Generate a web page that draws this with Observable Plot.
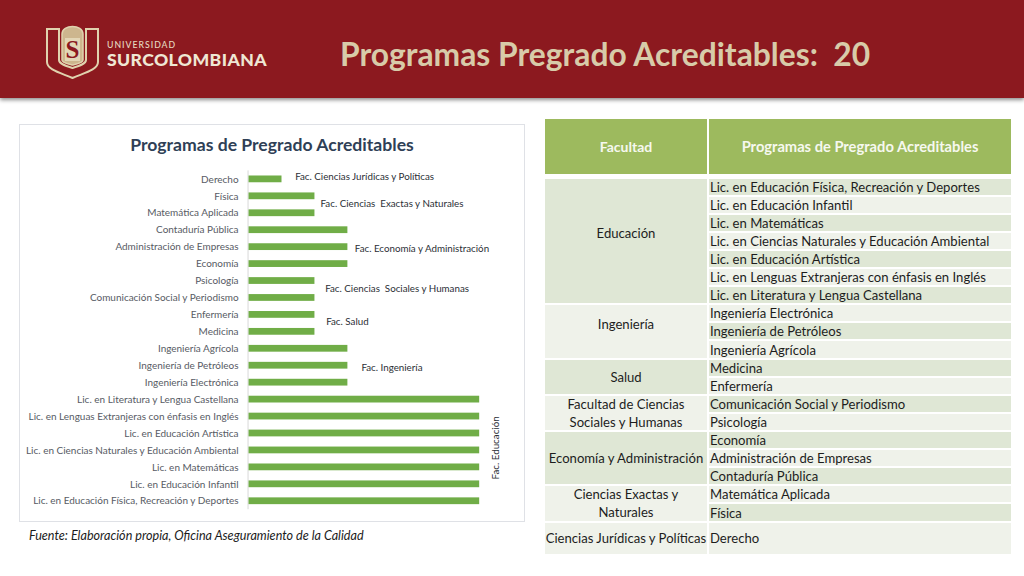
<!DOCTYPE html>
<html lang="es">
<head>
<meta charset="utf-8">
<title>Programas Pregrado Acreditables</title>
<script src="https://cdn.jsdelivr.net/npm/d3@7"></script>
<script src="https://cdn.jsdelivr.net/npm/@observablehq/plot@0.6"></script>
<style>
html,body{margin:0;padding:0;background:#fff;}
#slide{position:relative;width:1024px;height:576px;overflow:hidden;font-family:Lato,"Open Sans",sans-serif;background:#fff;}
#band{position:absolute;left:0;top:0;width:1024px;height:98px;background:#8c191f;box-shadow:0 2px 4px rgba(0,0,0,.45);}
#logo{position:absolute;left:44px;top:22px;}
#headline{position:absolute;left:340px;top:35px;font-size:31.8px;line-height:38px;font-weight:700;color:#d8cba9;white-space:pre;}
#card{position:absolute;left:19px;top:124px;width:506px;height:398px;border:1px solid #dfe1e6;box-sizing:border-box;background:#fff;}
#chart{position:absolute;left:-1px;top:-1px;}
#chart svg{display:block;}
#cardTitle{position:absolute;left:0;width:100%;top:8px;text-align:center;font-size:17.6px;line-height:24px;font-weight:700;color:#2f3f56;}
#source{position:absolute;left:29px;top:528px;font-size:12.6px;line-height:16px;font-style:italic;color:#1c1c1c;white-space:nowrap;}
#tbl{position:absolute;left:545px;top:119px;border-collapse:separate;border-spacing:0;table-layout:fixed;width:466px;font-size:13.1px;color:#1d1d1d;}
#tbl th{background:#9dba5e;color:#f6f8ef;font-weight:700;height:59.5px;padding:0;box-sizing:border-box;border-right:2px solid #fff;border-bottom:5px solid #fff;font-size:14.7px;}
#tbl th:first-child{font-size:14px;}
#tbl th:last-child,#tbl td:last-child{border-right:0;}
#tbl td{padding:0;height:16.11px;line-height:16px;border-bottom:2px solid #fff;white-space:nowrap;overflow:visible;}
#tbl td.fac{text-align:center;border-right:2px solid #fff;white-space:normal;line-height:18px;}
#tbl td.fac div{margin:-1px 0;}
#tbl td.prog{padding-left:1px;}
#tbl td.raised-large{padding-bottom:16px;}
#tbl td.raised-small{padding-bottom:14px;}
#tbl td.single{white-space:nowrap;}
.dark{background:#dfe7d5;}
.light{background:#eff2ea;}
</style>
</head>
<body>
<div id="slide">
  <div id="band"></div>
  <svg id="logo" width="230" height="60" viewBox="0 0 230 60">
    <path d="M3 7 H15 V38 C15 42 22 44 28.5 46 C35 44 42 42 42 38 V7 H54 V40 C54 48 40 51 28.5 56 C17 51 3 48 3 40 Z" fill="none" stroke="#e0d2ae" stroke-width="2"/>
    <path d="M18 12 C18 2 39 2 39 12 V38 C39 41 33 42 28.5 43 C24 42 18 41 18 38 Z" fill="#cdb68e" stroke="#e0d2ae" stroke-width="1.5"/>
    <rect x="21" y="16" width="15" height="23" fill="#e3d6b6"/>
    <text x="28.5" y="36" text-anchor="middle" font-family="Liberation Serif,serif" font-weight="700" font-size="25" fill="#8c191f">S</text>
    <text x="63" y="26" font-family="Lato,sans-serif" font-size="8.7" font-weight="500" letter-spacing="1" fill="#e6dac0">UNIVERSIDAD</text>
    <text x="63" y="44" font-family="Lato,sans-serif" font-size="17.6" font-weight="900" letter-spacing=".4" fill="#efe7d4">SURCOLOMBIANA</text>
  </svg>
  <div id="headline"></div>
  <div id="card"><div id="chart"></div><div id="cardTitle"></div></div>
  <div id="source"></div>
  <table id="tbl"><colgroup><col style="width:164px"><col></colgroup><thead><tr id="hdr"></tr></thead><tbody id="tb"></tbody></table>
</div>
<script>
const headline = "Programas Pregrado Acreditables:  20";
const chartTitle = "Programas de Pregrado Acreditables";
const sourceNote = "Fuente: Elaboración propia, Oficina Aseguramiento de la Calidad";
const tableHeaders = ["Facultad", "Programas de Pregrado Acreditables"];

// Chart, top row first
const programs = ["Derecho","Física","Matemática Aplicada","Contaduría Pública","Administración de Empresas","Economía","Psicología","Comunicación Social y Periodismo","Enfermería","Medicina","Ingeniería Agrícola","Ingeniería de Petróleos","Ingeniería Electrónica","Lic. en Literatura y Lengua Castellana","Lic. en Lenguas Extranjeras con énfasis en Inglés","Lic. en Educación Artística","Lic. en Ciencias Naturales y Educación Ambiental","Lic. en Matemáticas","Lic. en Educación Infantil","Lic. en Educación Física, Recreación y Deportes"];
const counts = [1,2,2,3,3,3,2,2,2,2,3,3,3,7,7,7,7,7,7,7];

// Faculty notes beside the bars: value position, anchoring row, offset in rows
const noteLabels = ["Fac. Ciencias Jurídicas y Políticas","Fac. Ciencias  Exactas y Naturales","Fac. Economía y Administración","Fac. Ciencias  Sociales y Humanas","Fac. Salud","Fac. Ingeniería"];
const noteValues = [1.4,2.17,3.21,2.31,2.34,3.41];
const noteRows = ["Derecho","Física","Administración de Empresas","Psicología","Enfermería","Ingeniería de Petróleos"];
const noteOffsets = [-0.12,0.45,0.12,0.49,0.39,0.14];
const sideLabel = "Fac. Educación";
const sideValue = 7.5;
const sideRow = "Lic. en Ciencias Naturales y Educación Ambiental";
const sideOffset = -0.15;

// Table
const faculties = ["Educación","Ingeniería","Salud","Facultad de Ciencias Sociales y Humanas","Economía y Administración","Ciencias Exactas y Naturales","Ciencias Jurídicas y Políticas"];
const facultySpans = [7,3,2,2,3,2,1];
const facultyTones = ["dark","light","dark","light","dark","light","light"];
const facultyClasses = ["raised-large","raised-small","","","single","","single"];
const tablePrograms = programs.slice().reverse();
const tableTones = tablePrograms.map((_, i) => i % 2 ? "light" : "dark");

document.getElementById("headline").textContent = headline;
document.getElementById("cardTitle").textContent = chartTitle;
document.getElementById("source").textContent = sourceNote;

const rows = programs.map((p, i) => ({program: p, count: counts[i]}));
const rowStep = 17;
const ink = "#575b64";
const noteInk = "#2b2f36";

const chart = Plot.plot({
  width: 506, height: 398,
  marginLeft: 230, marginRight: 0, marginTop: 46.5, marginBottom: 12,
  style: {fontFamily: "Lato, sans-serif", background: "transparent", overflow: "visible"},
  x: {domain: [0, 8.36], axis: null},
  y: {domain: programs, paddingInner: 0.6, paddingOuter: 0.3, round: false, axis: null},
  marks: [
    Plot.axisY({fontSize: 10, tickSize: 0, tickPadding: 10.5, label: null, color: ink, fill: ink}),
    Plot.ruleX([0], {dx: -1, stroke: "#d9d9d9"}),
    Plot.barX(rows, {x: "count", y: "program", fill: "#70ad47"}),
    ...noteLabels.map((label, i) => Plot.text([label], {
      x: () => noteValues[i], y: () => noteRows[i], dy: noteOffsets[i] * rowStep,
      textAnchor: "start", fontSize: 9.8, fill: noteInk
    })),
    Plot.text([sideLabel], {
      x: () => sideValue, y: () => sideRow, dy: sideOffset * rowStep,
      rotate: -90, fontSize: 9.8, fill: noteInk
    })
  ]
});
document.getElementById("chart").append(chart);

const hdr = document.getElementById("hdr");
tableHeaders.forEach(h => { const th = document.createElement("th"); th.textContent = h; hdr.append(th); });
const tb = document.getElementById("tb");
let f = 0, left = 0;
tablePrograms.forEach((p, i) => {
  const tr = document.createElement("tr");
  if (left === 0) {
    const td = document.createElement("td");
    td.className = ("fac " + facultyTones[f] + " " + facultyClasses[f]).trim();
    td.rowSpan = facultySpans[f];
    const inner = document.createElement("div");
    inner.textContent = faculties[f];
    td.append(inner);
    tr.append(td);
    left = facultySpans[f];
    f++;
  }
  left--;
  const c = document.createElement("td");
  c.className = "prog " + tableTones[i];
  c.textContent = p;
  if (i === tablePrograms.length - 1) c.style.height = "31px";
  tr.append(c);
  tb.append(tr);
});
</script>
</body>
</html>
